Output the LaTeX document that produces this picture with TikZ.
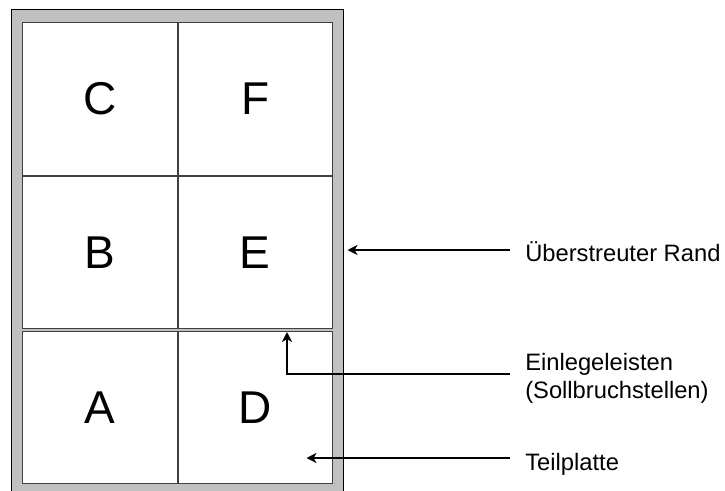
\documentclass[tikz,border=0pt]{standalone}
\usepackage{fontspec}
\setmainfont{Liberation Sans}
\usetikzlibrary{arrows.meta}
\definecolor{randgrau}{HTML}{C0C0C0}
\definecolor{leiste}{HTML}{404040}
\tikzset{
  feld/.style={draw=leiste, line width=0.75pt, fill=white, minimum width=115.875pt,
    minimum height=114.375pt, inner sep=0pt, font=\fontsize{34.5}{40}\selectfont},
  beschriftung/.style={anchor=base west, inner sep=0pt, font=\fontsize{17.8}{21}\selectfont},
  pfeil/.style={line width=1.5pt, -{Stealth[length=7.5pt,width=7.5pt,inset=2.2pt]}}
}
\begin{document}
\begin{tikzpicture}[x=0.75pt,y=-0.75pt]
\clip (0,0) rectangle (725,490);
\draw[fill=randgrau, line width=0.75pt] (11.5,9.5) rectangle (343.5,520);
\node[feld] (C) at (99.75,98.75) {C};
\node[feld] (F) at (255.25,98.75) {F};
\node[feld] (B) at (99.75,252.25) {B};
\node[feld] (E) at (255.25,252.25) {E};
\node[feld] (A) at (99.75,407.25) {A};
\node[feld] (D) at (255.25,407.25) {D};
\node[beschriftung] (rand) at (525,261.5) {Überstreuter Rand};
\node[beschriftung] (leisten) at (525,370) {Einlegeleisten};
\node[beschriftung] (leisten2) at (525,398.5) {(Sollbruchstellen)};
\node[beschriftung] (teil) at (525,470) {Teilplatte};
\coordinate (rand-a) at (510,250);
\coordinate (rand-z) at (347.5,250);
\coordinate (leisten-a) at (510,374);
\coordinate (leisten-z) at (287,332);
\coordinate (teil-a) at (510,458);
\coordinate (teil-z) at (306.5,458);
\draw[pfeil] (rand-a) -- (rand-z);
\draw[pfeil] (leisten-a) -| (leisten-z);
\draw[pfeil] (teil-a) -- (teil-z);
\end{tikzpicture}
\end{document}
